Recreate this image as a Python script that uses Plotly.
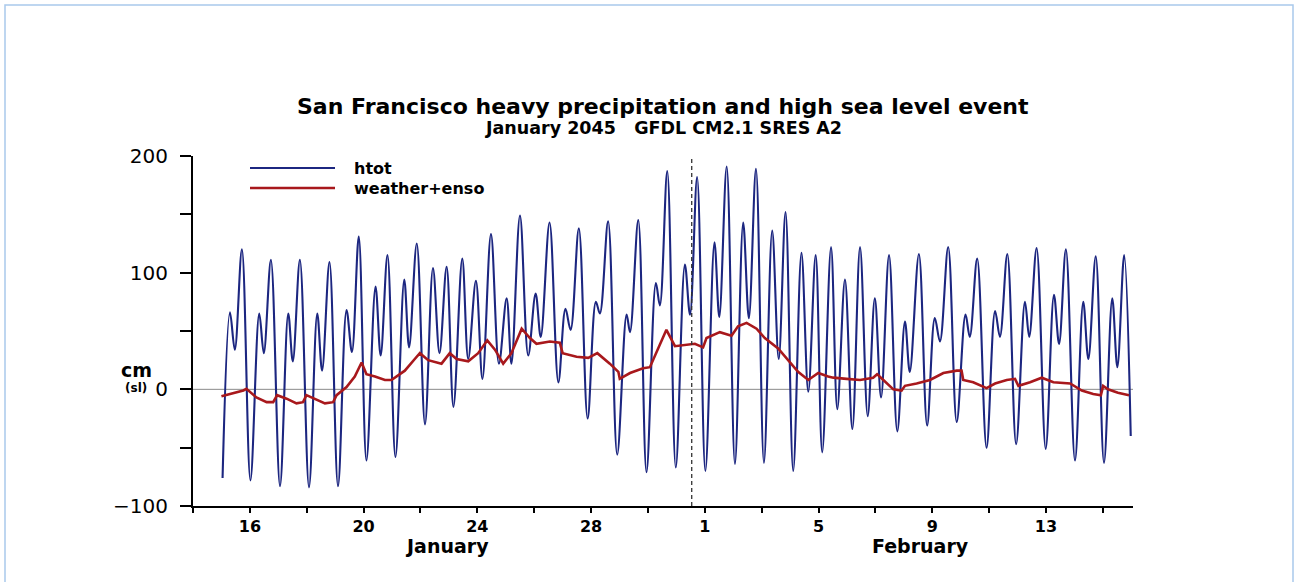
import plotly.graph_objects as go

# ---- data -------------------------------------------------------------
# time axis: day of January 2045 (32 = 1 February)
# htot: total sea level (cm), high and low waters
htot_day = [15.04, 15.30, 15.47, 15.72, 16.02, 16.33, 16.49, 16.74, 17.06, 17.35,
            17.51, 17.76, 18.08, 18.37, 18.54, 18.80, 19.10, 19.40, 19.59, 19.83,
            20.10, 20.42, 20.60, 20.84, 21.12, 21.43, 21.60, 21.87, 22.16, 22.44,
            22.67, 22.92, 23.16, 23.47, 23.68, 23.95, 24.18, 24.48, 24.76, 25.03,
            25.20, 25.50, 25.79, 26.05, 26.23, 26.54, 26.85, 27.10, 27.28, 27.57,
            27.88, 28.17, 28.31, 28.60, 28.92, 29.25, 29.37, 29.66, 29.95, 30.28,
            30.42, 30.68, 30.98, 31.30, 31.48, 31.73, 32.02, 32.34, 32.51, 32.77,
            33.06, 33.35, 33.55, 33.80, 34.08, 34.37, 34.60, 34.84, 35.11, 35.40,
            35.64, 35.90, 36.13, 36.44, 36.66, 36.93, 37.19, 37.46, 37.73, 37.98,
            38.20, 38.48, 38.77, 39.04, 39.21, 39.53, 39.82, 40.09, 40.27, 40.56,
            40.86, 41.17, 41.32, 41.58, 41.91, 42.21, 42.38, 42.64, 42.95, 43.26,
            43.41, 43.67, 43.99, 44.28, 44.46, 44.70, 45.02, 45.31, 45.49, 45.75,
            46.04, 46.33, 46.51, 46.75, 46.98]
htot_cm = [-76, 66, 34, 120, -78, 65, 31, 111, -83, 65,
           24, 111, -84, 65, 16, 109, -83, 68, 32, 131,
           -61, 88, 29, 115, -58, 94, 36, 125, -30, 104,
           31, 105, -15, 112, 26, 93, 9, 133, 22, 78,
           22, 149, 29, 82, 45, 143, 6, 69, 51, 138,
           -25, 75, 65, 144, -56, 64, 49, 145, -71, 91,
           72, 187, -67, 107, 64, 182, -70, 126, 62, 191,
           -64, 143, 61, 189, -63, 136, 26, 152, -70, 117,
           -2, 115, -54, 122, -17, 94, -34, 122, -23, 78,
           -7, 115, -36, 58, 15, 116, -31, 61, 41, 122,
           -28, 64, 45, 112, -50, 67, 45, 116, -47, 75,
           45, 121, -51, 81, 39, 120, -61, 75, 26, 114,
           -63, 78, 19, 115, -40]

# weather+enso: non-tidal sea level anomaly (cm)
anom_day = [15.00, 15.41, 15.77, 15.88, 16.23, 16.59, 16.82, 16.96, 17.29, 17.64,
            17.87, 17.99, 18.29, 18.64, 18.93, 19.05, 19.40, 19.69, 19.93, 20.10,
            20.40, 20.75, 20.98, 21.45, 21.80, 21.98, 22.27, 22.74, 23.03, 23.27,
            23.68, 24.03, 24.35, 24.62, 24.91, 25.20, 25.56, 25.85, 26.08, 26.55,
            26.90, 27.00, 27.49, 27.90, 28.22, 28.66, 28.96, 29.01, 29.37, 29.83,
            30.07, 30.36, 30.65, 30.95, 31.30, 31.65, 31.94, 32.06, 32.53, 32.94,
            33.17, 33.47, 33.82, 34.11, 34.58, 34.93, 35.28, 35.64, 35.99, 36.34,
            36.52, 36.99, 37.46, 37.92, 38.06, 38.28, 38.63, 38.92, 39.04, 39.45,
            39.92, 40.39, 40.86, 41.03, 41.09, 41.44, 41.91, 42.21, 42.62, 42.91,
            43.03, 43.44, 43.85, 44.26, 44.85, 45.26, 45.66, 45.93, 46.01, 46.18,
            46.53, 46.92]
anom_cm = [-6, -3, -1, 0.5, -7, -11, -11, -5, -8, -12,
           -11, -5, -8, -12, -11, -5, 2, 11, 23, 13,
           11, 8, 8, 16, 26, 31, 25, 22, 31, 26,
           24, 31, 42, 34, 22, 31, 52, 44, 39, 41,
           40, 31, 28, 27, 31, 22, 15, 9, 14, 18,
           19, 35, 51, 37, 38, 39, 36, 44, 49, 46,
           54, 57, 52, 44, 35, 25, 15, 8, 14, 11,
           10, 9, 8, 10, 13, 8, 0, -1, 3, 5,
           8, 14, 16, 16, 8, 6, 1, 5, 8, 9,
           3, 6, 10, 6, 5, -1, -4, -5, 3, 0,
           -3, -5]

# time of the peak-event marker (dashed line)
event_day = 31.54

# axis ticks
x_tick_days = [14, 16, 18, 20, 22, 24, 26, 28, 30, 32, 34, 36, 38, 40, 42, 44, 46]
x_tick_text = ["", "16", "", "20", "", "24", "", "28", "", "1", "", "5", "", "9", "", "13", ""]
y_tick_vals = [-100, -50, 0, 50, 100, 150, 200]
y_tick_text = ["\u2212100", "", "0", "", "100", "", "200"]

month_labels = ["January", "February"]
month_label_days = [22.93, 39.57]

# ---- figure -------------------------------------------------------------
FONT = "DejaVu Sans"
W, H = 1298, 582
L, R, T, B = 193, 165, 156, 76
PW, PH = W - L - R, H - T - B

BLUE = "#1c2680"
RED = "#a8181c"


def px(xp):
    return (xp - L) / PW


def py(yp):
    return (H - B - yp) / PH


fig = go.Figure()

fig.add_trace(go.Scatter(
    x=htot_day, y=htot_cm, mode="lines", name="htot",
    line=dict(color=BLUE, width=2.1, shape="spline", smoothing=1.0),
    showlegend=False, hoverinfo="skip"))

fig.add_trace(go.Scatter(
    x=anom_day, y=anom_cm, mode="lines", name="weather+enso",
    line=dict(color=RED, width=2.6),
    showlegend=False, hoverinfo="skip"))

# zero reference line
fig.add_shape(type="line", xref="paper", yref="y", x0=0, x1=1, y0=0, y1=0,
              line=dict(color="#8a8a8a", width=1), layer="below")

# dashed event marker
fig.add_shape(type="line", xref="x", yref="y", x0=event_day, x1=event_day,
              y0=-100, y1=200, line=dict(color="#333333", width=1.3, dash="4px,3px"))

# legend keys
leg_x0, leg_x1, leg_tx = px(250), px(335), px(352)
for yy, col, wd, label in [(168, BLUE, 2.0, "htot"),
                           (188, RED, 2.6, "weather+enso")]:
    fig.add_shape(type="line", xref="paper", yref="paper",
                  x0=leg_x0, x1=leg_x1, y0=py(yy), y1=py(yy),
                  line=dict(color=col, width=wd))
    fig.add_annotation(xref="paper", yref="paper", x=leg_tx, y=py(yy),
                       text="<b>%s</b>" % label, showarrow=False,
                       xanchor="left", yanchor="middle",
                       font=dict(family=FONT, size=16, color="black"))

# titles
fig.add_annotation(xref="paper", yref="paper", x=px(663), y=py(106),
                   text="<b>San Francisco heavy precipitation and high sea level event</b>",
                   showarrow=False, xanchor="center", yanchor="middle",
                   font=dict(family=FONT, size=22, color="black"))
fig.add_annotation(xref="paper", yref="paper", x=px(663), y=py(128),
                   text="<b>January 2045 \u00a0 GFDL CM2.1 SRES A2</b>",
                   showarrow=False, xanchor="center", yanchor="middle",
                   font=dict(family=FONT, size=17.5, color="black"))

# y-axis unit label
fig.add_annotation(xref="paper", yref="paper", x=px(136), y=py(370),
                   text="<b>cm</b>", showarrow=False, xanchor="center", yanchor="middle",
                   font=dict(family=FONT, size=19, color="black"))
fig.add_annotation(xref="paper", yref="paper", x=px(136), y=py(388),
                   text="<b>(sl)</b>", showarrow=False, xanchor="center", yanchor="middle",
                   font=dict(family=FONT, size=12, color="black"))

# month names under the day ticks
for d, m in zip(month_label_days, month_labels):
    fig.add_annotation(xref="x", yref="paper", x=d, y=py(546),
                       text="<b>%s</b>" % m, showarrow=False,
                       xanchor="center", yanchor="middle",
                       font=dict(family=FONT, size=19, color="black"))

# page frame
fig.add_shape(type="rect", xref="paper", yref="paper",
              x0=px(5), x1=px(1293), y0=py(620), y1=py(5),
              line=dict(color="#a9c9ec", width=1.5), layer="below")

fig.update_layout(
    width=W, height=H, autosize=False,
    margin=dict(l=L, r=R, t=T, b=B, pad=0),
    paper_bgcolor="white", plot_bgcolor="white",
    showlegend=False,
    xaxis=dict(range=[14, 47.06], tickmode="array", tickvals=x_tick_days,
               ticktext=["<b>%s</b>" % t if t else "" for t in x_tick_text],
               ticks="outside", ticklen=5, tickwidth=1.5, tickcolor="black",
               showline=True, linecolor="black", linewidth=2,
               showgrid=False, zeroline=False,
               tickfont=dict(family=FONT, size=16, color="black")),
    yaxis=dict(range=[-100, 200], tickmode="array", tickvals=y_tick_vals,
               ticktext=y_tick_text, ticks="outside", ticklen=11, tickwidth=1.5,
               tickcolor="black", showline=True, linecolor="black", linewidth=2,
               showgrid=False, zeroline=False, ticklabelstandoff=8,
               tickfont=dict(family=FONT, size=20, color="black")),
)

fig.write_html("out.html")
